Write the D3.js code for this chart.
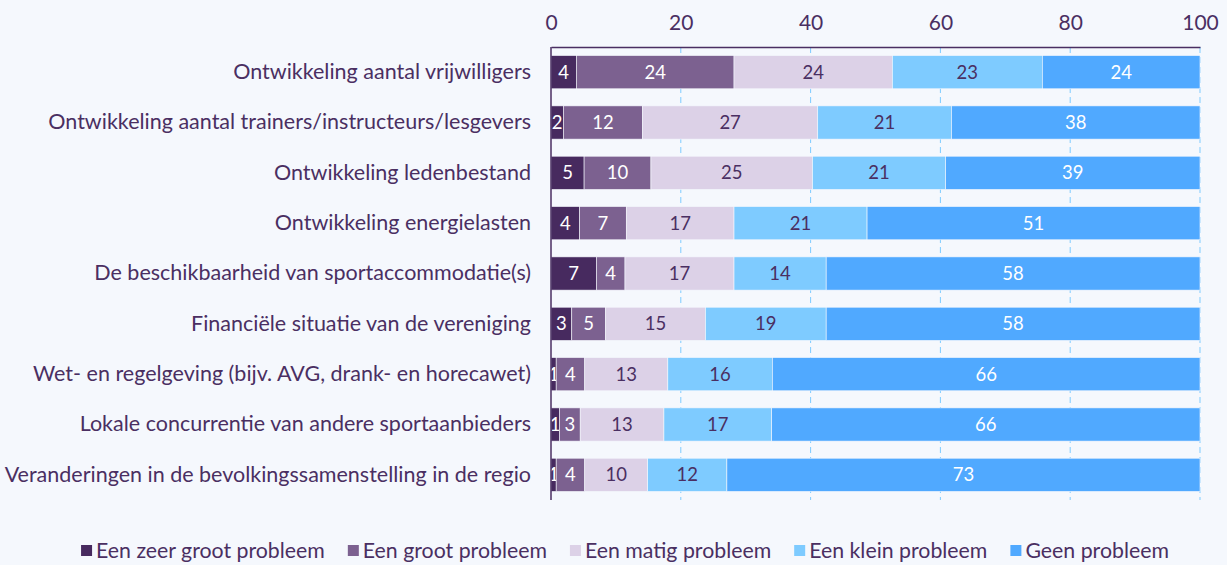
<!DOCTYPE html>
<html>
<head>
<meta charset="utf-8">
<script src="https://cdn.jsdelivr.net/npm/d3@7/dist/d3.min.js"></script>
<style>
  html, body { margin: 0; padding: 0; background: #f5f8fd; }
  svg { display: block; font-family: Lato, "Noto Sans", sans-serif; }
</style>
</head>
<body>
<div id="chart"></div>
<script>
// categories, top to bottom
var categories = [
  "Ontwikkeling aantal vrijwilligers",
  "Ontwikkeling aantal trainers/instructeurs/lesgevers",
  "Ontwikkeling ledenbestand",
  "Ontwikkeling energielasten",
  "De beschikbaarheid van sportaccommodatie(s)",
  "Financiële situatie van de vereniging",
  "Wet- en regelgeving (bijv. AVG, drank- en horecawet)",
  "Lokale concurrentie van andere sportaanbieders",
  "Veranderingen in de bevolkingssamenstelling in de regio"
];

var seriesNames = ["Een zeer groot probleem", "Een groot probleem", "Een matig probleem", "Een klein probleem", "Geen probleem"];

// percentages per series (labels are rounded)
var zeerGroot = [3.9, 1.9, 5.1, 4.4, 7.0, 3.2, 0.8, 1.3, 0.8];
var groot     = [24.3, 12.2, 10.3, 7.2, 4.4, 5.2, 4.4, 3.2, 4.4];
var matig     = [24.4, 27.0, 24.9, 16.6, 16.8, 15.4, 12.8, 12.9, 9.7];
var klein     = [23.1, 20.6, 20.5, 20.5, 14.2, 18.6, 16.1, 16.6, 12.2];
var geen      = [24.3, 38.3, 39.2, 51.3, 57.6, 57.6, 65.9, 66.0, 72.9];

var xTicks = [0, 20, 40, 60, 80, 100];

var colors = ["#472a5f", "#7c6190", "#dcd1e7", "#7ecbff", "#50a9ff"];
var labelColors = ["#ffffff", "#ffffff", "#4a2f62", "#4a2f62", "#ffffff"];
var textColor = "#4a2f62";

var W = 1227, H = 565;
var margin = {top: 47, right: 27, bottom: 65, left: 551};
var plotBottom = 500;

var rows = categories.map(function (c, i) {
  return {cat: c, vals: [zeerGroot[i], groot[i], matig[i], klein[i], geen[i]]};
});

var svg = d3.select("#chart").append("svg")
  .attr("width", W).attr("height", H);

var x = d3.scaleLinear().domain([0, 100]).range([margin.left, W - margin.right]);
var y = d3.scaleBand().domain(categories)
  .range([margin.top, plotBottom])
  .paddingInner(0.34).paddingOuter(0.17);

// gridlines
svg.append("g").selectAll("line")
  .data(xTicks.filter(function (d) { return d > 0; }))
  .enter().append("line")
  .attr("x1", function (d) { return x(d); })
  .attr("x2", function (d) { return x(d); })
  .attr("y1", margin.top)
  .attr("y2", plotBottom)
  .attr("stroke", "#7ecbff")
  .attr("stroke-width", 1)
  .attr("stroke-dasharray", "6,4");

// bars
var stackData = [];
rows.forEach(function (r) {
  var acc = 0;
  r.vals.forEach(function (v, k) {
    stackData.push({cat: r.cat, k: k, x0: acc, x1: acc + v, v: v});
    acc += v;
  });
});

var segs = svg.append("g").selectAll("g")
  .data(stackData).enter().append("g");

segs.append("rect")
  .attr("x", function (d) { return x(d.x0); })
  .attr("y", function (d) { return y(d.cat); })
  .attr("width", function (d) { return x(d.x1) - x(d.x0); })
  .attr("height", y.bandwidth())
  .attr("fill", function (d) { return colors[d.k]; })
  .attr("stroke", "#f5f8fd")
  .attr("stroke-width", 0.6);

segs.append("text")
  .attr("x", function (d) { return (x(d.x0) + x(d.x1)) / 2; })
  .attr("y", function (d) { return y(d.cat) + y.bandwidth() / 2; })
  .attr("dy", "0.36em")
  .attr("text-anchor", "middle")
  .attr("font-size", 18.5)
  .attr("fill", function (d) { return labelColors[d.k]; })
  .text(function (d) { return Math.round(d.v); });

// top axis
var xAxis = d3.axisTop(x).tickValues(xTicks).tickSize(0).tickPadding(17);
var xAxisEl = svg.append("g")
  .attr("transform", "translate(0," + margin.top + ")")
  .call(xAxis);
xAxisEl.select(".domain").attr("stroke", textColor).attr("stroke-width", 1.5);
xAxisEl.selectAll(".tick text")
  .attr("fill", textColor).attr("font-size", 21)
  .style("font-family", "Lato, 'Noto Sans', sans-serif");

// left axis
var yAxis = d3.axisLeft(y).tickSize(0).tickPadding(20).tickSizeOuter(0);
var yAxisEl = svg.append("g")
  .attr("transform", "translate(" + margin.left + ",0)")
  .call(yAxis);
yAxisEl.select(".domain")
  .attr("d", "M0," + margin.top + "V" + plotBottom)
  .attr("stroke", textColor).attr("stroke-width", 1.5);
yAxisEl.selectAll(".tick text")
  .attr("fill", textColor).attr("font-size", 21.5)
  .style("font-family", "Lato, 'Noto Sans', sans-serif");

// legend
var legend = svg.append("g").attr("transform", "translate(0,551)");
var items = legend.selectAll("g").data(seriesNames).enter().append("g");
items.append("rect")
  .attr("width", 11).attr("height", 11).attr("y", -6)
  .attr("fill", function (d, i) { return colors[i]; });
items.append("text")
  .attr("x", 15).attr("dy", "0.35em")
  .attr("font-size", 21.3)
  .attr("fill", textColor)
  .text(function (d) { return d; });

var pos = 0, gap = 23;
items.each(function () {
  var g = d3.select(this);
  g.attr("transform", "translate(" + pos + ",0)");
  pos += this.getBBox().width + gap;
});
var total = pos - gap;
legend.attr("transform", "translate(" + (625 - total / 2) + ",551)");
</script>
</body>
</html>
